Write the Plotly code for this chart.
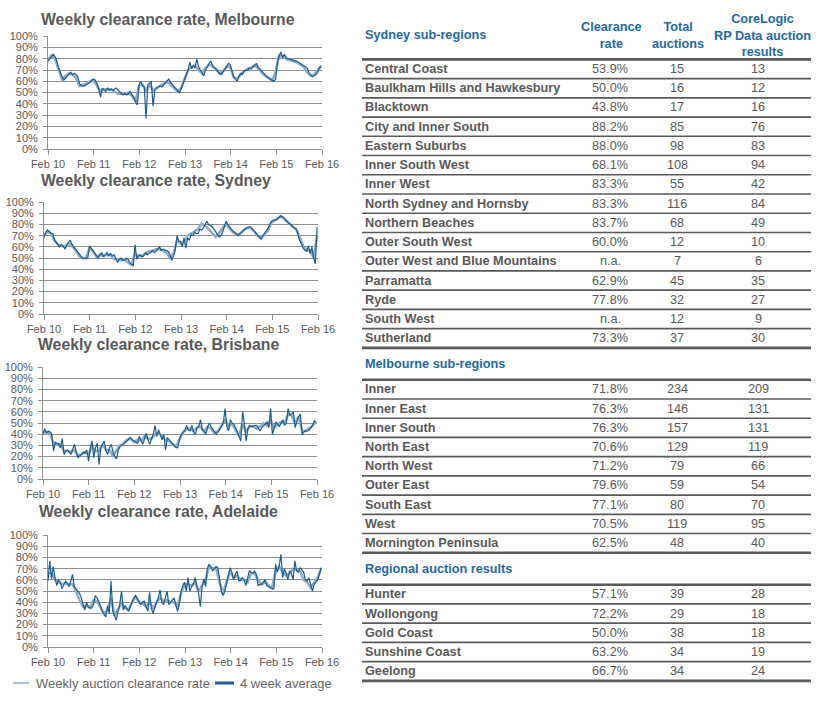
import plotly.graph_objects as go
import pandas as pd

W, H = 826, 708

# ---------------- chart data (clearance rate, %) ----------------
# 4 week average (dark line), fortnightly readings Feb 2010 - Feb 2016
mel_avg = [78, 80, 82, 84, 82, 78, 72, 67, 64, 61, 63, 65, 66, 68, 66, 67, 66, 64, 58, 56, 56, 56, 57, 58, 59, 61,
           62, 61, 58, 53, 46, 54, 52, 51, 54, 52, 53, 52, 53, 54, 52, 50, 49, 48, 49, 48, 50, 51, 48, 46, 42, 39,
           57, 60, 56, 55, 27, 57, 58, 60, 38, 52, 54, 55, 56, 55, 57, 58, 60, 62, 59, 57, 56, 54, 51, 50, 53, 57,
           62, 66, 70, 77, 71, 74, 72, 80, 73, 70, 68, 65, 70, 73, 75, 78, 74, 72, 71, 69, 67, 66, 68, 71, 73, 76,
           75, 70, 64, 62, 60, 64, 67, 66, 69, 70, 70, 72, 71, 73, 74, 76, 72, 71, 69, 67, 65, 64, 63, 62, 61, 60,
           62, 76, 82, 86, 81, 84, 81, 80, 80, 79, 79, 78, 78, 77, 76, 75, 74, 73, 72, 68, 66, 64, 65, 66, 68, 72,
           74]
syd_avg = [68, 73, 75, 74, 72, 72, 66, 64, 63, 60, 62, 61, 58, 62, 64, 66, 62, 60, 58, 56, 53, 51, 50, 50, 50, 50,
           61, 59, 57, 54, 52, 50, 53, 55, 51, 53, 55, 52, 54, 52, 53, 50, 46, 49, 50, 48, 48, 50, 49, 46, 44, 43,
           62, 49, 52, 53, 51, 52, 55, 53, 54, 56, 57, 55, 56, 58, 60, 57, 58, 57, 57, 56, 53, 48, 52, 58, 70, 65,
           65, 60, 68, 59, 68, 66, 71, 70, 73, 72, 72, 76, 75, 77, 80, 83, 80, 79, 78, 76, 74, 72, 69, 70, 73, 78,
           83, 80, 78, 75, 74, 73, 71, 70, 72, 73, 75, 76, 77, 78, 78, 76, 74, 72, 70, 69, 67, 70, 72, 74, 77, 80,
           83, 84, 84, 85, 86, 88, 87, 86, 84, 82, 81, 80, 78, 77, 76, 72, 66, 62, 59, 57, 56, 61, 54, 60, 50, 45,
           78]
bri_avg = [40, 45, 41, 43, 42, 40, 25, 33, 32, 31, 28, 36, 22, 25, 26, 24, 22, 27, 31, 24, 19, 21, 22, 24, 23, 26,
           16, 27, 34, 19, 28, 32, 13, 28, 31, 34, 25, 22, 28, 31, 24, 20, 18, 26, 29, 30, 31, 33, 34, 36, 37, 35,
           34, 33, 32, 38, 35, 31, 36, 41, 35, 31, 36, 40, 48, 38, 44, 40, 35, 40, 26, 37, 35, 33, 31, 30, 28, 28,
           36, 40, 42, 43, 48, 44, 43, 48, 42, 40, 46, 47, 53, 44, 43, 40, 46, 50, 47, 44, 42, 40, 42, 44, 47, 50,
           63, 47, 43, 53, 50, 49, 46, 42, 38, 34, 60, 50, 34, 45, 48, 47, 47, 48, 48, 45, 43, 46, 48, 50, 51, 46,
           63, 40, 46, 51, 49, 47, 50, 53, 48, 50, 63, 57, 58, 60, 46, 51, 56, 58, 40, 42, 43, 43, 44, 46, 48, 52,
           51]
ade_avg = [59, 77, 61, 72, 62, 55, 60, 58, 52, 56, 59, 57, 54, 59, 65, 54, 52, 51, 48, 44, 38, 33, 40, 36, 35, 35,
           38, 46, 44, 41, 37, 32, 30, 27, 37, 30, 59, 32, 28, 24, 32, 38, 50, 33, 37, 35, 32, 36, 41, 44, 46, 43,
           40, 38, 40, 41, 36, 32, 49, 35, 30, 36, 40, 44, 51, 40, 38, 44, 50, 38, 40, 41, 44, 38, 32, 38, 50, 55,
           58, 50, 62, 50, 54, 56, 62, 55, 48, 36, 54, 61, 54, 70, 74, 72, 68, 70, 72, 71, 60, 50, 46, 50, 57, 65,
           71, 67, 60, 65, 68, 59, 60, 62, 60, 55, 62, 68, 67, 66, 68, 65, 55, 56, 56, 58, 60, 55, 54, 53, 52, 52,
           74, 67, 72, 83, 62, 70, 66, 60, 68, 66, 60, 77, 68, 67, 71, 69, 67, 60, 59, 62, 55, 50, 56, 58, 60, 65,
           71]

# weekly auction clearance rate (light line), four-weekly readings
mel_week = [79, 83, 80, 70, 62, 65, 67, 66, 63, 56, 57, 58, 60,
            61, 56, 51, 53, 53, 53, 51, 49, 49, 49, 50, 47, 42,
            56, 57, 52, 57, 52, 54, 56, 58, 60, 57, 54, 51, 54,
            63, 70, 73, 74, 70, 67, 72, 75, 73, 71, 67, 69, 73,
            73, 64, 62, 66, 69, 71, 72, 74, 72, 68, 65, 63, 61,
            68, 83, 82, 80, 79, 78, 77, 75, 73, 68, 65, 66, 70,
            73]
syd_week = [70, 74, 72, 66, 62, 61, 60, 63, 61, 57, 52, 50, 50,
            59, 56, 51, 53, 52, 53, 53, 49, 49, 48, 49, 46, 44,
            54, 52, 52, 54, 56, 56, 58, 58, 57, 55, 50, 54, 66,
            63, 64, 70, 72, 74, 76, 81, 79, 76, 72, 69, 72, 77,
            80, 76, 73, 71, 72, 75, 77, 77, 74, 70, 68, 71, 75,
            82, 84, 86, 87, 84, 81, 78, 76, 69, 61, 57, 57, 50,
            70]
bri_week = [42, 42, 41, 32, 31, 31, 25, 25, 24, 26, 21, 22, 24,
            22, 29, 25, 25, 31, 26, 26, 21, 26, 30, 32, 35, 36,
            33, 35, 34, 38, 36, 36, 40, 41, 38, 35, 34, 31, 29,
            36, 42, 45, 45, 43, 46, 47, 42, 47, 45, 41, 43, 48,
            53, 47, 49, 44, 38, 50, 42, 47, 47, 45, 47, 50, 48,
            53, 46, 49, 51, 50, 58, 57, 50, 56, 43, 43, 45, 48,
            51]
ade_week = [66, 66, 60, 58, 56, 57, 56, 56, 50, 42, 36, 37, 35,
            42, 41, 35, 30, 33, 44, 28, 33, 39, 35, 33, 40, 45,
            40, 39, 36, 40, 35, 40, 44, 41, 42, 40, 40, 36, 48,
            56, 56, 55, 58, 50, 55, 60, 72, 70, 71, 58, 48, 57,
            68, 62, 64, 60, 60, 58, 66, 66, 60, 56, 58, 55, 53,
            68, 72, 67, 64, 66, 70, 69, 68, 60, 58, 53, 57, 62,
            70]

city_names = ["Melbourne", "Sydney", "Brisbane", "Adelaide"]
x_tick_dates = ["2010-02-01", "2011-02-01", "2012-02-01", "2013-02-01", "2014-02-01", "2015-02-01", "2016-02-01"]
x_tick_labels = ["Feb 10", "Feb 11", "Feb 12", "Feb 13", "Feb 14", "Feb 15", "Feb 16"]
legend_labels = ["Weekly auction clearance rate", "4 week average"]

# ---------------- table data ----------------
syd_regions = ["Central Coast", "Baulkham Hills and Hawkesbury", "Blacktown", "City and Inner South",
               "Eastern Suburbs", "Inner South West", "Inner West", "North Sydney and Hornsby",
               "Northern Beaches", "Outer South West", "Outer West and Blue Mountains", "Parramatta",
               "Ryde", "South West", "Sutherland"]
syd_rate = ["53.9%", "50.0%", "43.8%", "88.2%", "88.0%", "68.1%", "83.3%", "83.3%", "83.7%", "60.0%",
            "n.a.", "62.9%", "77.8%", "n.a.", "73.3%"]
syd_total = [15, 16, 17, 85, 98, 108, 55, 116, 68, 12, 7, 45, 32, 12, 37]
syd_results = [13, 12, 16, 76, 83, 94, 42, 84, 49, 10, 6, 35, 27, 9, 30]

mel_regions = ["Inner", "Inner East", "Inner South", "North East", "North West", "Outer East",
               "South East", "West", "Mornington Peninsula"]
mel_rate = ["71.8%", "76.3%", "76.3%", "70.6%", "71.2%", "79.6%", "77.1%", "70.5%", "62.5%"]
mel_total = [234, 146, 157, 129, 79, 59, 80, 119, 48]
mel_results = [209, 131, 131, 119, 66, 54, 70, 95, 40]

reg_regions = ["Hunter", "Wollongong", "Gold Coast", "Sunshine Coast", "Geelong"]
reg_rate = ["57.1%", "72.2%", "50.0%", "63.2%", "66.7%"]
reg_total = [39, 29, 38, 34, 34]
reg_results = [28, 18, 18, 19, 24]

section_titles = ["Sydney sub-regions", "Melbourne sub-regions", "Regional auction results"]
col_headers = ["Clearance<br>rate", "Total<br>auctions", "CoreLogic<br>RP Data auction<br>results"]

# ---------------- styling ----------------
FONT = "Liberation Sans, Arial, sans-serif"
GREY_TXT = "#595959"
BLUE_TXT = "#1f69a4"
DARK_LINE = "#1b5d8e"
LIGHT_LINE = "#8eadc8"
GRID = "#8f8f8f"


def px(x):
    return x / W


def py(y):
    return 1 - y / H


fig = go.Figure()

# chart boxes in pixels: left, right, top, bottom ; title anchor
boxes = [(48, 322, 36, 149), (44, 318, 202, 314), (43, 317, 367, 479), (48, 322, 535, 647)]
title_pos = [(38.5, 19), (38.5, 180), (36.3, 344), (37.3, 511)]
avg_series = [mel_avg, syd_avg, bri_avg, ade_avg]
week_series = [mel_week, syd_week, bri_week, ade_week]

annotations = []
shapes = []

for i, city in enumerate(city_names):
    xa = "x" if i == 0 else f"x{i+1}"
    ya = "y" if i == 0 else f"y{i+1}"
    avg = avg_series[i]
    wk = week_series[i]
    d_avg = pd.date_range("2010-02-01", periods=len(avg), freq="14D")
    d_wk = pd.date_range("2010-02-01", periods=len(wk), freq="28D")
    fig.add_trace(go.Scatter(x=d_wk, y=wk, mode="lines", xaxis=xa, yaxis=ya,
                             line=dict(color=LIGHT_LINE, width=2.6), showlegend=False,
                             name=legend_labels[0]))
    fig.add_trace(go.Scatter(x=d_avg, y=avg, mode="lines", xaxis=xa, yaxis=ya,
                             line=dict(color=DARK_LINE, width=1.2), showlegend=False,
                             name=legend_labels[1]))
    l, r, t, b = boxes[i]
    xkey = "xaxis" if i == 0 else f"xaxis{i+1}"
    ykey = "yaxis" if i == 0 else f"yaxis{i+1}"
    fig.update_layout({
        xkey: dict(domain=[px(l), px(r)], anchor=ya, type="date", automargin=False,
                   range=[x_tick_dates[0], x_tick_dates[-1]],
                   tickvals=x_tick_dates, ticktext=x_tick_labels,
                   ticks="outside", ticklen=5, tickcolor=GRID, tickwidth=1,
                   showline=True, linecolor=GRID, linewidth=1, showgrid=False,
                   tickfont=dict(family=FONT, size=11, color=GREY_TXT), fixedrange=True),
        ykey: dict(domain=[py(b), py(t)], anchor=xa, range=[0, 100.2], automargin=False,
                   tick0=0, dtick=10, ticksuffix="%",
                   ticks="outside", ticklen=4, tickcolor=GRID, tickwidth=1,
                   showline=True, linecolor=GRID, linewidth=1,
                   showgrid=True, gridcolor=GRID, gridwidth=1, zeroline=False,
                   ticklabelstandoff=3,
                   tickfont=dict(family=FONT, size=11, color=GREY_TXT), fixedrange=True),
    })
    tx, ty = title_pos[i]
    annotations.append(dict(text=f"<b>Weekly clearance rate, {city}</b>", x=px(tx), y=py(ty),
                            xref="paper", yref="paper", xanchor="left", yanchor="middle",
                            showarrow=False, font=dict(family=FONT, size=15.8, color=GREY_TXT)))

# legend (drawn manually)
leg_y = 683
shapes.append(dict(type="line", xref="paper", yref="paper", x0=px(13), x1=px(29), y0=py(leg_y), y1=py(leg_y),
                   line=dict(color=LIGHT_LINE, width=1.5)))
annotations.append(dict(text=legend_labels[0], x=px(33.5), y=py(leg_y), xref="paper", yref="paper",
                        xanchor="left", yanchor="middle", showarrow=False,
                        font=dict(family=FONT, size=13, color="#666666")))
shapes.append(dict(type="line", xref="paper", yref="paper", x0=px(215), x1=px(234), y0=py(leg_y), y1=py(leg_y),
                   line=dict(color=DARK_LINE, width=3)))
annotations.append(dict(text=legend_labels[1], x=px(237.5), y=py(leg_y), xref="paper", yref="paper",
                        xanchor="left", yanchor="middle", showarrow=False,
                        font=dict(family=FONT, size=13, color="#666666")))

# ---------------- table ----------------
TX0, TX1 = 362, 811
NAME_X = 363
COL_X = [610, 677, 758]
HDR_X = [611, 678, 762]
PITCH = 19.23
TFS = 12.7

sections = [
    (syd_regions, syd_rate, syd_total, syd_results),
    (mel_regions, mel_rate, mel_total, mel_results),
    (reg_regions, reg_rate, reg_total, reg_results),
]

header_y = 35
first_row = 69
for s, (names, rates, totals, results) in enumerate(sections):
    annotations.append(dict(text=f"<b>{section_titles[s]}</b>", x=px(NAME_X), y=py(header_y),
                            xref="paper", yref="paper", xanchor="left", yanchor="middle", showarrow=False,
                            font=dict(family=FONT, size=TFS, color=BLUE_TXT)))
    if s == 0:
        for c, htxt in enumerate(col_headers):
            annotations.append(dict(text=f"<b>{htxt}</b>", x=px(HDR_X[c]), y=py(header_y + (0.5 if c == 2 else 0)),
                                    xref="paper", yref="paper", xanchor="center", yanchor="middle",
                                    showarrow=False, align="center",
                                    font=dict(family=FONT, size=TFS, color=BLUE_TXT)))
    n = len(names)
    for k in range(n):
        yk = first_row + k * PITCH
        annotations.append(dict(text=f"<b>{names[k]}</b>", x=px(NAME_X), y=py(yk), xref="paper", yref="paper",
                                xanchor="left", yanchor="middle", showarrow=False,
                                font=dict(family=FONT, size=TFS, color=GREY_TXT)))
        for c, val in enumerate([rates[k], totals[k], results[k]]):
            annotations.append(dict(text=str(val), x=px(COL_X[c]), y=py(yk), xref="paper", yref="paper",
                                    xanchor="center", yanchor="middle", showarrow=False,
                                    font=dict(family=FONT, size=TFS, color=GREY_TXT)))
    # rules
    for k in range(n + 1):
        yl = first_row + (k - 0.5) * PITCH
        wdt = 2.6 if k in (0, n) else 1.6
        shapes.append(dict(type="line", xref="paper", yref="paper", x0=px(TX0), x1=px(TX1),
                           y0=py(yl), y1=py(yl), line=dict(color="#5a5a5a", width=wdt)))
    bottom = first_row + (n - 0.5) * PITCH
    header_y = bottom + 16.5
    first_row = header_y + 25

fig.update_layout(
    width=W, height=H, margin=dict(l=0, r=0, t=0, b=0, autoexpand=False),
    paper_bgcolor="white", plot_bgcolor="white",
    annotations=annotations, shapes=shapes, showlegend=False,
    font=dict(family=FONT, color=GREY_TXT),
)

fig.write_html("out.html", config={"displayModeBar": False},
               post_script="document.body.style.margin='0px';")
